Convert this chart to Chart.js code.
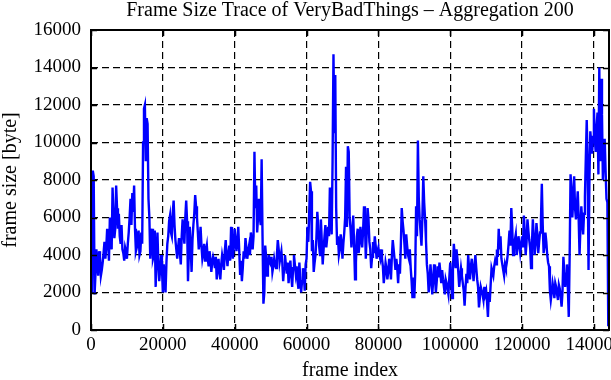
<!DOCTYPE html>
<html>
<head>
<meta charset="utf-8">
<script src="https://cdn.jsdelivr.net/npm/chart.js@4.4.1/dist/chart.umd.min.js"></script>
<style>
  html, body { margin: 0; padding: 0; background: #ffffff; }
  #wrap { width: 611px; height: 380px; position: relative; }
</style>
</head>
<body>
<div id="wrap"><canvas id="c" width="611" height="380"></canvas></div>
<script>
// ---- data ----
const chartTitle = 'Frame Size Trace of VeryBadThings \u2013 Aggregation 200';
const xAxisTitle = 'frame index';
const yAxisTitle = 'frame size [byte]';
const frameStep = 250;          // spacing of the sampled frame indices
const xTickValues = [0, 20000, 40000, 60000, 80000, 100000, 120000, 140000];
const xTickLabels = ['0', '20000', '40000', '60000', '80000', '100000', '120000', '140000'];
const yTickValues = [0, 2000, 4000, 6000, 8000, 10000, 12000, 14000, 16000];
const yTickLabels = ['0', '2000', '4000', '6000', '8000', '10000', '12000', '14000', '16000'];
const xMax = 144200;
const yMax = 16000;

// frame size (byte), one value every 250 frames, starting at frame 0
const frameSizes = [
  4600, 2000, 8500, 8200, 1900, 3000, 4300, 3500, 2900, 4200, 3900, 2900, 3200, 3600, 4100, 4700, 3800, 4400, 5400, 4800,
  3700, 6000, 5600, 4300, 7600, 6200, 4900, 5400, 7700, 6500, 5400, 6200, 5000, 4600, 5600, 4300, 4100, 3700, 4400, 4200,
  3800, 4600, 5200, 6000, 7000, 5600, 7300, 6300, 7700, 5400, 4200, 4400, 5000, 5300, 4000, 4200, 5200, 4600, 10000, 11800,
  12000, 9000, 11300, 11000, 7000, 6000, 3800, 5000, 5400, 3800, 4000, 5300, 2300, 3800, 5200, 3500, 2600, 3200, 4000, 3300,
  2000, 3500, 2800, 2000, 3600, 4600, 5000, 5800, 6100, 5200, 5000, 6200, 6900, 5600, 4800, 4300, 3800, 4400, 4900, 4100,
  3500, 5000, 5900, 5200, 4600, 6000, 6900, 5800, 2600, 4200, 5500, 4400, 3100, 4800, 5600, 6200, 7200, 6600, 6000, 5200,
  4300, 4800, 5500, 4500, 3800, 4100, 4600, 3700, 4200, 4500, 3800, 3400, 4200, 3800, 3100, 3600, 3900, 3700, 3300, 3900,
  2700, 3300, 3800, 3100, 2700, 3500, 4000, 3700, 3200, 4200, 4800, 3900, 3400, 4100, 4500, 3700, 5500, 4600, 3800, 4400,
  5400, 4700, 4200, 4800, 5500, 4300, 3000, 3700, 2600, 3300, 4200, 3800, 4900, 4400, 3800, 4200, 4500, 4000, 5200, 4800,
  4300, 5000, 9500, 6500, 7700, 5200, 6000, 7000, 6000, 5600, 9100, 5000, 1400, 2000, 4500, 3900, 2900, 3300, 4000, 3600,
  3500, 3900, 3100, 3400, 3800, 3500, 3300, 4000, 4800, 4300, 3600, 3900, 4200, 3600, 2600, 3300, 4000, 3500, 3000, 3600,
  2500, 3200, 3700, 2900, 2300, 3300, 4000, 3500, 3000, 3400, 2600, 2200, 3600, 2800, 2000, 2600, 3300, 2900, 2100, 3500,
  3800, 5500, 4700, 6300, 7900, 7400, 4200, 4800, 3100, 3600, 4000, 4900, 6300, 5600, 4500, 4000, 5900, 4700, 3500, 4300,
  5000, 5600, 4400, 4900, 5500, 5000, 7600, 6200, 5100, 9000, 14700, 10500, 13600, 6500, 4600, 5000, 4000, 4300, 5100, 4700,
  3800, 4600, 5200, 6000, 8700, 5500, 9800, 9500, 6000, 5400, 4400, 5200, 6100, 4500, 2700, 3600, 5000, 5400, 4100, 4600,
  5500, 5000, 4400, 5300, 6600, 5800, 3800, 5200, 6500, 5900, 4700, 4300, 3300, 3900, 4700, 4100, 5000, 4500, 3800, 4200,
  4400, 4000, 3800, 4300, 3800, 3400, 2500, 3000, 3600, 3300, 2700, 3100, 3800, 3400, 2700, 3900, 4800, 4300, 3800, 3200,
  3800, 3300, 2500, 3500, 3000, 4500, 6500, 5800, 5300, 4600, 3800, 5100, 4500, 4000, 3800, 4300, 3300, 2600, 1700, 2800,
  1700, 3000, 6600, 5000, 10100, 7000, 5900, 5200, 4500, 6000, 8200, 6800, 5900, 4800, 3500, 3000, 2000, 2500, 3500, 2800,
  1900, 2600, 3500, 2900, 2000, 2600, 3400, 2800, 3600, 3100, 2500, 3200, 2700, 2300, 1900, 2700, 2500, 2200, 1900, 2800,
  3600, 2600, 1700, 3200, 4600, 4000, 3300, 4300, 3800, 3100, 2300, 2800, 3300, 2900, 2500, 2100, 1300, 2200, 3000, 2500,
  4000, 3300, 2700, 3400, 3800, 3200, 2600, 3400, 4000, 3300, 2700, 2300, 1200, 1700, 2300, 2100, 1900, 1600, 2300, 1900,
  2100, 1500, 700, 2000, 1500, 2400, 3300, 3100, 2900, 3400, 3700, 3500, 4300, 3900, 5400, 4300, 5000, 3800, 3500, 3200,
  2900, 3500, 3300, 3600, 4000, 4600, 5300, 4500, 6500, 5500, 4000, 4500, 4800, 5100, 4000, 4400, 5000, 4600, 4100, 4500,
  5000, 4400, 6100, 5200, 4000, 4700, 5900, 5300, 4800, 4400, 3300, 4600, 5900, 5000, 4000, 4600, 5700, 5100, 4100, 4700,
  5200, 5800, 7800, 5600, 4100, 4500, 5200, 4700, 4000, 3600, 3400, 2100, 1600, 2000, 2500, 2200, 1700, 2500, 2300, 1900,
  1600, 2400, 2200, 1800, 1250, 2000, 3900, 3200, 2300, 3000, 3500, 2200, 700, 4000, 8300, 7500, 6000, 7000, 8200, 6500,
  5900, 6600, 7400, 6000, 4000, 5500, 6600, 5800, 5100, 6200, 7100, 9200, 11200, 9000, 3200, 8000, 10600, 10000, 9400, 10300,
  11800, 10200, 9500, 10800, 11600, 8300, 14000, 9000, 13400, 11500, 8000, 9200, 10200, 8500, 7000, 6800, 200
];
const frameIndex = frameSizes.map((_, i) => i * frameStep);

// ---- styling ----
const FONT = "'Liberation Serif', 'Times New Roman', 'DejaVu Serif', serif";

const frameBox = {
  id: 'frameBox',
  afterDatasetsDraw(chart) {
    const { ctx, chartArea: a, scales } = chart;
    ctx.save();
    ctx.strokeStyle = '#000';
    ctx.setLineDash([]);
    // inward tick marks on all four sides
    ctx.lineWidth = 1.5;
    const tl = 6;
    ctx.beginPath();
    xTickValues.forEach(v => {
      const px = Math.round(scales.x.getPixelForValue(v)) + 0.5;
      ctx.moveTo(px, a.bottom); ctx.lineTo(px, a.bottom - tl);
      ctx.moveTo(px, a.top); ctx.lineTo(px, a.top + tl);
    });
    yTickValues.forEach(v => {
      const py = Math.round(scales.y.getPixelForValue(v)) + 0.5;
      ctx.moveTo(a.left, py); ctx.lineTo(a.left + tl, py);
      ctx.moveTo(a.right, py); ctx.lineTo(a.right - tl, py);
    });
    ctx.stroke();
    ctx.lineWidth = 2;
    ctx.strokeRect(a.left, a.top, a.right - a.left, a.bottom - a.top);
    ctx.restore();
  }
};

new Chart(document.getElementById('c'), {
  type: 'line',
  data: {
    datasets: [{
      data: frameIndex.map((f, i) => ({ x: f, y: frameSizes[i] })),
      borderColor: '#0000ff',
      borderWidth: 2.4,
      pointRadius: 0,
      tension: 0,
      fill: false
    }]
  },
  options: {
    responsive: false,
    animation: false,
    devicePixelRatio: 1,
    layout: { padding: { left: 0, right: 2, top: 0, bottom: 0 } },
    plugins: {
      legend: { display: false },
      tooltip: { enabled: false },
      title: {
        display: true,
        text: chartTitle,
        fullSize: false,
        color: '#000',
        font: { family: FONT, size: 20, weight: 'normal', lineHeight: 1 },
        padding: { top: 1, bottom: 9 }
      }
    },
    scales: {
      x: {
        type: 'linear',
        min: 0,
        max: xMax,
        afterBuildTicks: s => { s.ticks = xTickValues.map(v => ({ value: v })); },
        afterFit: s => { s.height = 50; s.paddingLeft = 0; s.paddingRight = 0; },
        ticks: {
          color: '#000',
          font: { family: FONT, size: 19 },
          padding: 4,
          maxRotation: 0,
          autoSkip: false,
          callback: (v) => xTickLabels[xTickValues.indexOf(v)]
        },
        grid: { color: '#000', lineWidth: 1.2, drawTicks: false },
        border: { display: false, dash: [7, 4] },
        title: {
          display: true,
          text: xAxisTitle,
          color: '#000',
          font: { family: FONT, size: 20, lineHeight: 1 },
          padding: { top: 0, bottom: -1 }
        }
      },
      y: {
        type: 'linear',
        min: 0,
        max: yMax,
        afterBuildTicks: s => { s.ticks = yTickValues.map(v => ({ value: v })); },
        afterFit: s => { s.width = 91; s.paddingTop = 0; s.paddingBottom = 0; },
        ticks: {
          color: '#000',
          font: { family: FONT, size: 19 },
          padding: 10,
          autoSkip: false,
          callback: (v) => yTickLabels[yTickValues.indexOf(v)]
        },
        grid: { color: '#000', lineWidth: 1.2, drawTicks: false },
        border: { display: false, dash: [7, 4] },
        title: {
          display: true,
          text: yAxisTitle,
          color: '#000',
          font: { family: FONT, size: 20, lineHeight: 1 },
          padding: { top: 1, bottom: 0 }
        }
      }
    }
  },
  plugins: [frameBox]
});
</script>
</body>
</html>
